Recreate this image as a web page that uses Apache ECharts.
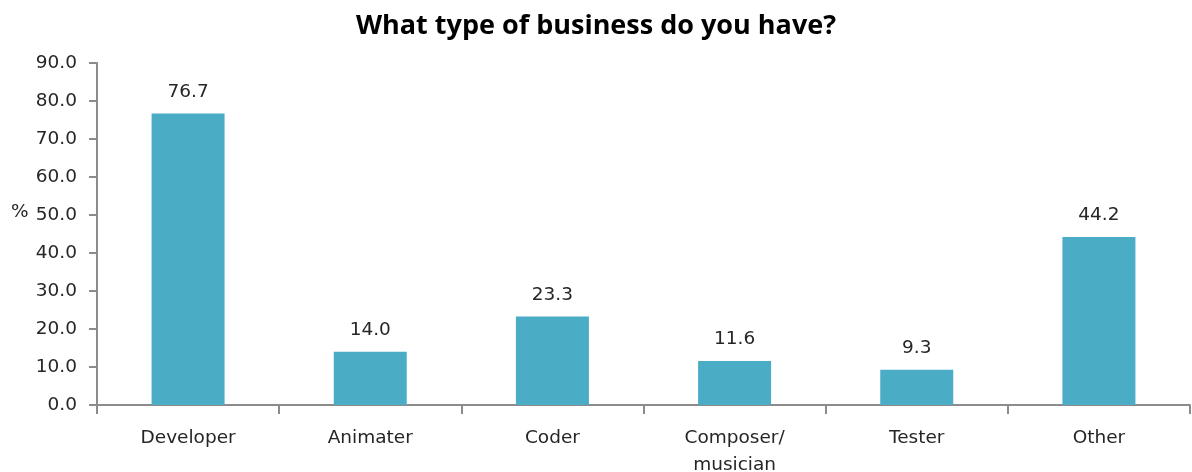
<!DOCTYPE html>
<html>
<head>
<meta charset="utf-8">
<script src="https://cdn.jsdelivr.net/npm/echarts@6/dist/echarts.min.js"></script>
<style>
  html, body { margin: 0; padding: 0; background: #fff; }
  #chart { width: 1192px; height: 472px; }
</style>
</head>
<body>
<div id="chart"></div>
<script>
// Survey responses: share of respondents by business type (%)
const categories = ['Developer', 'Animater', 'Coder', 'Composer/\nmusician', 'Tester', 'Other'];
const shares = [76.7, 14.0, 23.3, 11.6, 9.3, 44.2];
const yTicks = { min: 0, max: 90, interval: 10 };

const axisColor = '#8c8c8c';
const textColor = '#262626';
const labelFont = 'DejaVu Sans, Verdana, sans-serif';
const labelSize = 18.5;

const chart = echarts.init(document.getElementById('chart'));
chart.setOption({
  animation: false,
  title: {
    text: 'What type of business do you have?',
    left: 'center',
    top: 8,
    textStyle: { fontFamily: 'Open Sans, sans-serif', fontWeight: 'bold', fontSize: 27, color: '#000' }
  },
  grid: { left: 97, right: 2, top: 63, bottom: 67, containLabel: false, outerBoundsMode: 'none' },
  graphic: [{
    type: 'text',
    left: 11,
    top: 203,
    style: { text: '%', font: labelSize + 'px ' + labelFont, fill: textColor }
  }],
  xAxis: {
    type: 'category',
    data: categories,
    axisLine: { lineStyle: { color: axisColor, width: 2 } },
    axisTick: { show: true, length: 9, alignWithLabel: false, lineStyle: { color: axisColor, width: 2 } },
    axisLabel: { color: textColor, fontFamily: labelFont, fontSize: labelSize, margin: 20, lineHeight: 27, interval: 0 }
  },
  yAxis: {
    type: 'value',
    min: yTicks.min,
    max: yTicks.max,
    interval: yTicks.interval,
    axisLine: { show: true, lineStyle: { color: axisColor, width: 2 } },
    axisTick: { show: true, length: 8, inside: false, lineStyle: { color: axisColor, width: 2 } },
    splitLine: { show: false },
    axisLabel: {
      color: textColor, fontFamily: labelFont, fontSize: labelSize, margin: 20,
      formatter: v => v.toFixed(1)
    }
  },
  series: [{
    type: 'bar',
    data: shares,
    barWidth: 73,
    itemStyle: { color: '#4BACC6' },
    label: {
      show: true,
      position: 'top',
      distance: 12,
      color: textColor,
      fontFamily: labelFont,
      fontSize: labelSize,
      formatter: p => p.value.toFixed(1)
    }
  }]
});
</script>
</body>
</html>
